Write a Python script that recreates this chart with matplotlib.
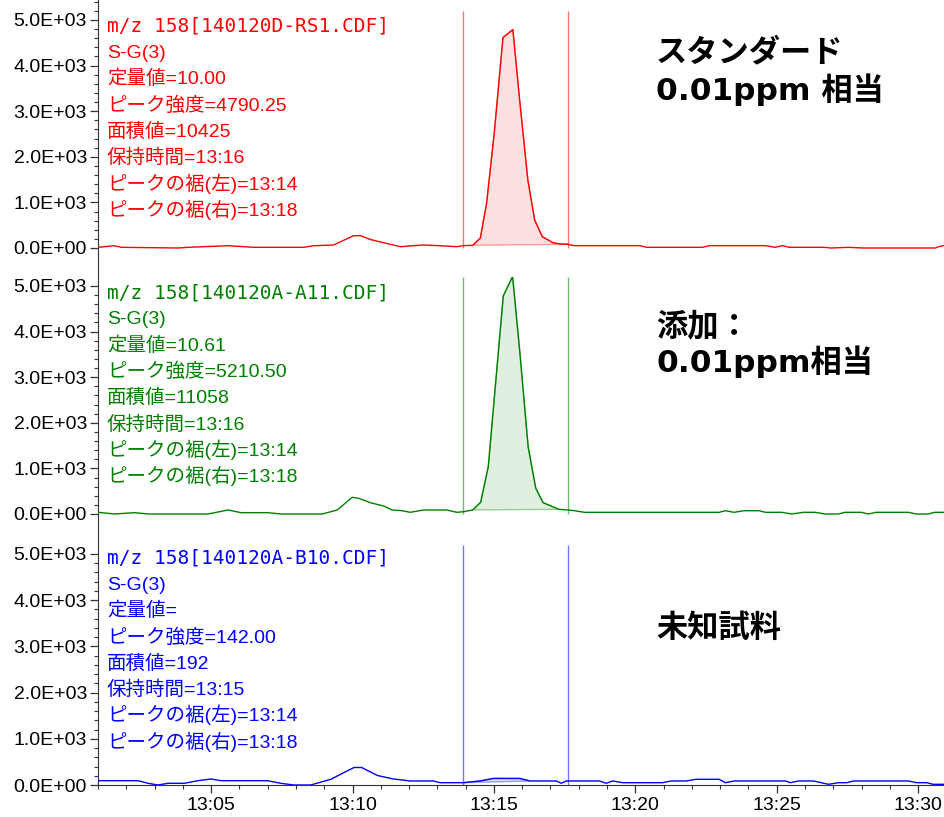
"""Plots three stacked m/z 158 chromatograms with peak annotations."""

import matplotlib
matplotlib.use("Agg")
import matplotlib.pyplot as plt
import numpy as np
from matplotlib.ticker import FixedLocator, FuncFormatter, MultipleLocator

# retention time in minutes after 13:00, intensity in counts
red_time = [1.0, 1.58, 1.83, 3.84, 4.19, 5.60, 6.51, 8.27, 8.63, 9.33,
            10.04, 10.28, 10.63, 11.69, 12.50, 13.10, 13.69, 13.92, 14.25, 14.52,
            14.74, 15.01, 15.32, 15.67, 15.91, 16.20, 16.44, 16.71, 17.08, 17.33,
            17.61, 17.82, 20.16, 20.40, 22.37, 22.62, 24.58, 24.95, 25.20, 25.45,
            26.68, 26.92, 27.54, 28.03, 30.61, 30.73, 30.95]
red_counts = [15, 50, 15, 0, 15, 50, 15, 15, 50, 66,
              270, 270, 186, 29, 66, 50, 29, 52, 59, 220,
              979, 2512, 4614, 4790, 3242, 1490, 614, 249, 118, 88,
              81, 52, 52, 15, 15, 52, 52, 15, 52, 15,
              15, 0, 15, 0, 0, 30, 60]

green_time = [1.0, 1.58, 2.29, 2.78, 4.89, 5.60, 6.06, 7.01, 7.46, 8.93,
              9.46, 9.99, 10.22, 10.63, 11.10, 11.40, 11.75, 12.04, 12.51, 13.33,
              13.69, 13.92, 14.25, 14.53, 14.80, 15.33, 15.66, 15.92, 16.21, 16.48,
              16.74, 17.30, 17.62, 17.85, 18.20, 22.96, 23.19, 23.49, 23.84, 24.37,
              24.60, 25.18, 25.53, 25.95, 26.36, 26.71, 27.18, 27.42, 27.99, 28.24,
              28.52, 29.65, 29.93, 30.35, 30.59, 30.95]
green_counts = [37, 0, 29, 0, 0, 88, 29, 29, 0, 0,
                88, 366, 344, 248, 175, 88, 72, 37, 88, 88,
                37, 50, 88, 257, 1037, 4781, 5210, 3524, 1476, 564,
                248, 103, 88, 72, 37, 37, 72, 37, 72, 72,
                37, 37, 0, 37, 37, 0, 0, 37, 37, 0,
                37, 37, 0, 0, 37, 37]

blue_time = [1.0, 2.42, 2.77, 3.12, 3.48, 4.05, 4.53, 5.00, 5.35, 7.00,
             7.46, 7.92, 8.52, 9.23, 10.05, 10.32, 10.88, 11.41, 12.04, 12.86,
             13.10, 13.92, 14.51, 14.98, 15.92, 16.27, 17.21, 17.38, 17.56, 18.73,
             18.97, 19.20, 19.55, 20.96, 21.26, 21.79, 22.14, 22.96, 23.19, 23.49,
             25.31, 25.48, 25.77, 26.30, 26.83, 27.18, 27.48, 27.71, 29.65, 29.95,
             30.30, 30.53, 30.95]
blue_counts = [93, 93, 37, 0, 37, 37, 93, 130, 93, 93,
               37, 0, 0, 123, 379, 379, 206, 134, 87, 87,
               50, 50, 87, 142, 142, 87, 87, 37, 87, 87,
               37, 87, 50, 50, 87, 87, 123, 123, 50, 87,
               87, 50, 87, 87, 15, 50, 50, 87, 87, 50,
               50, 15, 15]

# integration window (peak foot left / right) and filled area range
peak_edges = [13.92, 17.61]
red_fill = (14.25, 17.61)
green_fill = (14.25, 17.30)
blue_fill = (13.92, 16.27)

red_info = ["m/z 158[140120D-RS1.CDF]", "S-G(3)", "定量値=10.00",
            "ピーク強度=4790.25", "面積値=10425", "保持時間=13:16",
            "ピークの裾(左)=13:14", "ピークの裾(右)=13:18"]
green_info = ["m/z 158[140120A-A11.CDF]", "S-G(3)", "定量値=10.61",
              "ピーク強度=5210.50", "面積値=11058", "保持時間=13:16",
              "ピークの裾(左)=13:14", "ピークの裾(右)=13:18"]
blue_info = ["m/z 158[140120A-B10.CDF]", "S-G(3)", "定量値=",
             "ピーク強度=142.00", "面積値=192", "保持時間=13:15",
             "ピークの裾(左)=13:14", "ピークの裾(右)=13:18"]

red_label = ["スタンダード", "0.01ppm 相当"]
green_label = ["添加：", "0.01ppm相当"]
blue_label = ["未知試料"]

W, H = 945, 817
LEFT_PX = 98
CJK = ["Liberation Sans", "Noto Sans CJK JP"]


def fx(px):
    return px / W


def fy(py):
    return 1 - py / H


def make_panel(fig, top_px, bottom_px, zero_px, px_per_k, last=False):
    """Adds one panel axes and scales it so 0 sits at zero_px."""
    ax = fig.add_axes([fx(LEFT_PX), fy(bottom_px), 1 - fx(LEFT_PX),
                       (bottom_px - top_px) / H])
    ax.set_ylim((zero_px - bottom_px) / px_per_k * 1000,
                (zero_px - top_px) / px_per_k * 1000)
    ax.set_xlim(1.0, 30.95)
    for side in ("top", "right"):
        ax.spines[side].set_visible(False)
    ax.spines["left"].set_color("#333333")
    ax.spines["bottom"].set_color("#333333")
    ax.yaxis.set_major_locator(FixedLocator(np.arange(0, 5001, 1000)))
    ax.yaxis.set_minor_locator(FixedLocator(np.arange(0, 5401, 200)))
    ax.yaxis.set_major_formatter(FuncFormatter(lambda v, p: f"{v:.1E}"))
    ax.tick_params(axis="y", which="major", length=6, width=0.9, pad=2,
                   labelsize=14, color="#333333")
    ax.tick_params(axis="y", which="minor", length=3, width=0.8, color="#333333")
    for lab in ax.get_yticklabels():
        lab.set_family("Liberation Sans")
    if last:
        ax.xaxis.set_major_locator(MultipleLocator(5))
        ax.xaxis.set_minor_locator(MultipleLocator(1))
        ax.xaxis.set_major_formatter(
            FuncFormatter(lambda v, p: f"13:{int(round(v)):02d}"))
        ax.tick_params(axis="x", which="major", length=6, width=0.9, pad=3,
                       labelsize=14, color="#333333")
        ax.tick_params(axis="x", which="minor", length=3, width=0.8,
                       color="#333333")
        for lab in ax.get_xticklabels():
            lab.set_family("Liberation Sans")
    else:
        ax.spines["bottom"].set_visible(False)
        ax.tick_params(axis="x", which="both", bottom=False, labelbottom=False)
    return ax


def draw_trace(ax, time, counts, fill_range, color, fill_color):
    """Draws the trace, the filled peak area and the peak foot markers."""
    t = np.array(time)
    c = np.array(counts)
    sel = (t >= fill_range[0]) & (t <= fill_range[1])
    ax.fill(t[sel], c[sel], facecolor=fill_color, edgecolor="none", zorder=1)
    ax.fill(t[sel], c[sel], facecolor="none", edgecolor=color,
            linewidth=1.0, alpha=0.35, zorder=1)
    ax.vlines(peak_edges, 0, 5200, colors=color, linewidth=1.0, alpha=0.55,
              zorder=2)
    ax.plot(t, c, color=color, linewidth=1.0, zorder=3)


def write_info(fig, lines, base_px, color):
    """Writes the peak info block in the panel's top-left corner."""
    for i, line in enumerate(lines):
        family = ["DejaVu Sans Mono"] if i == 0 else CJK
        fig.text(fx(107), fy(base_px + i * 26.3), line, color=color,
                 fontsize=14, family=family, va="baseline", ha="left")


def write_label(fig, lines, baselines_px):
    for line, py in zip(lines, baselines_px):
        fig.text(fx(656), fy(py), line, fontsize=22.5, fontweight="bold",
                 family=["DejaVu Sans", "Noto Sans CJK JP"], va="baseline",
                 ha="left", color="black")


def make_figure():
    fig = plt.figure(figsize=(W / 100, H / 100), dpi=100)

    ax1 = make_panel(fig, 0, 277, 248, 45.6)
    ax2 = make_panel(fig, 277, 545, 514, 45.6)
    ax3 = make_panel(fig, 545, 785, 785, 46.2, last=True)

    draw_trace(ax1, red_time, red_counts, red_fill, "#ff0000", "#fde0e0")
    draw_trace(ax2, green_time, green_counts, green_fill, "#008000", "#e0efe0")
    draw_trace(ax3, blue_time, blue_counts, blue_fill, "#0000ff", "#e0e0fd")

    write_info(fig, red_info, 31.8, "#ff0000")
    write_info(fig, green_info, 298.0, "#008000")
    write_info(fig, blue_info, 563.5, "#0000ff")

    write_label(fig, red_label, [61, 100])
    write_label(fig, green_label, [335, 372])
    write_label(fig, blue_label, [637])

    fig.savefig("out.png", dpi=100)


if __name__ == "__main__":
    make_figure()
